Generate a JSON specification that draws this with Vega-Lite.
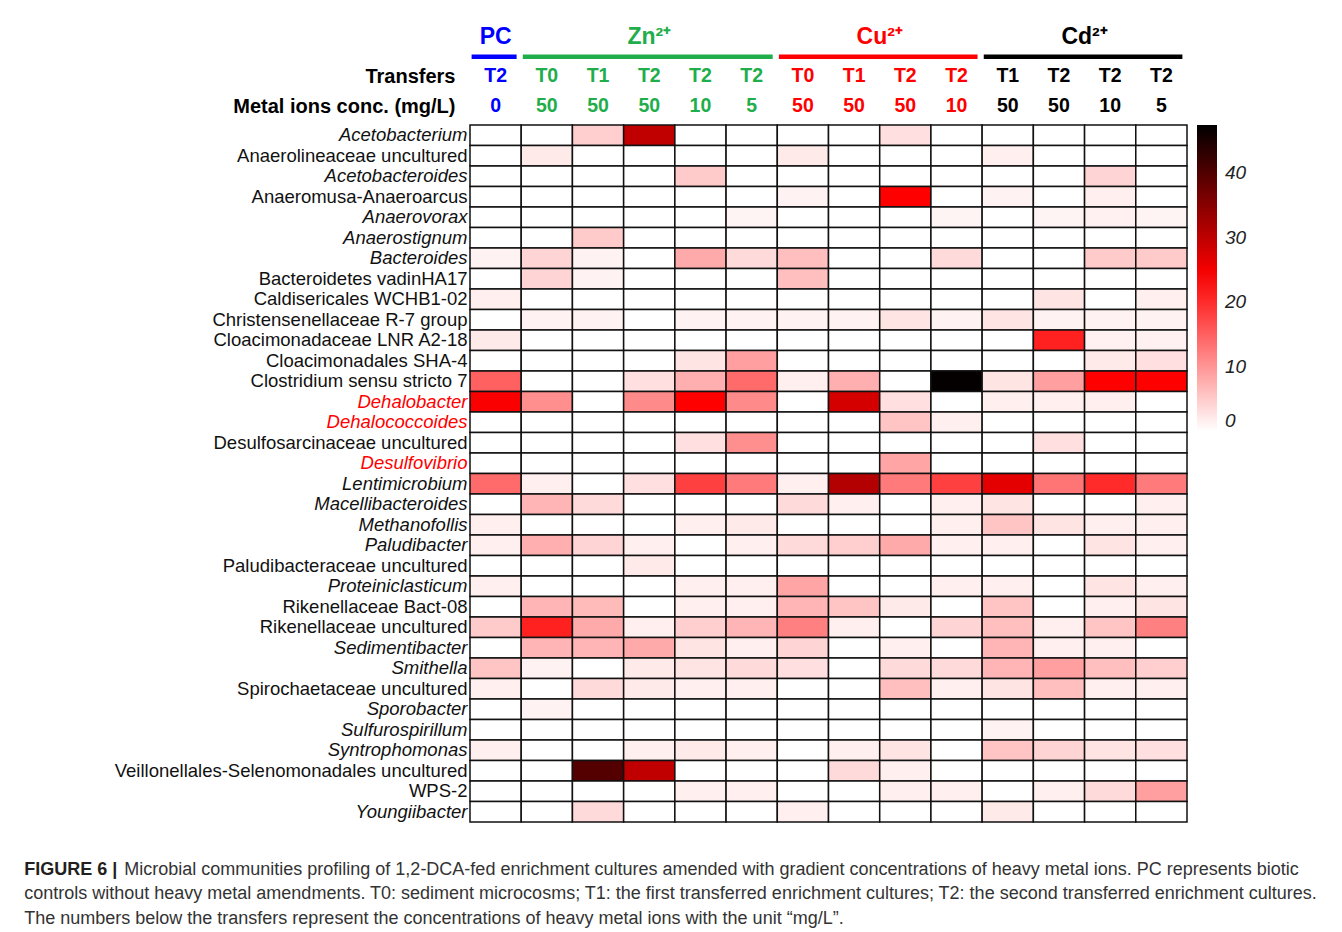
{
"$schema": "https://vega.github.io/schema/vega-lite/v6.json",
"padding": {"left": 24, "top": 26, "right": 10, "bottom": 10},
"config": {"view": {"stroke": null}, "font": "Liberation Sans"},
"datasets": {
"taxa": [
{"r":1,"taxon":"Acetobacterium"},{"r":2,"taxon":"Anaerolineaceae uncultured"},{"r":3,"taxon":"Acetobacteroides"},{"r":4,"taxon":"Anaeromusa-Anaeroarcus"},{"r":5,"taxon":"Anaerovorax"},{"r":6,"taxon":"Anaerostignum"},{"r":7,"taxon":"Bacteroides"},{"r":8,"taxon":"Bacteroidetes vadinHA17"},{"r":9,"taxon":"Caldisericales WCHB1-02"},{"r":10,"taxon":"Christensenellaceae R-7 group"},{"r":11,"taxon":"Cloacimonadaceae LNR A2-18"},{"r":12,"taxon":"Cloacimonadales SHA-4"},{"r":13,"taxon":"Clostridium sensu stricto 7"},{"r":14,"taxon":"Dehalobacter"},{"r":15,"taxon":"Dehalococcoides"},{"r":16,"taxon":"Desulfosarcinaceae uncultured"},{"r":17,"taxon":"Desulfovibrio"},{"r":18,"taxon":"Lentimicrobium"},{"r":19,"taxon":"Macellibacteroides"},{"r":20,"taxon":"Methanofollis"},{"r":21,"taxon":"Paludibacter"},{"r":22,"taxon":"Paludibacteraceae uncultured"},{"r":23,"taxon":"Proteiniclasticum"},{"r":24,"taxon":"Rikenellaceae Bact-08"},{"r":25,"taxon":"Rikenellaceae uncultured"},{"r":26,"taxon":"Sedimentibacter"},{"r":27,"taxon":"Smithella"},{"r":28,"taxon":"Spirochaetaceae uncultured"},{"r":29,"taxon":"Sporobacter"},{"r":30,"taxon":"Sulfurospirillum"},{"r":31,"taxon":"Syntrophomonas"},{"r":32,"taxon":"Veillonellales-Selenomonadales uncultured"},{"r":33,"taxon":"WPS-2"},{"r":34,"taxon":"Youngiibacter"}
],
"cols": [
{"c":1,"group":"PC","transfer":"T2","conc":"0"},
{"c":2,"group":"Zn²⁺","transfer":"T0","conc":"50"},
{"c":3,"group":"Zn²⁺","transfer":"T1","conc":"50"},
{"c":4,"group":"Zn²⁺","transfer":"T2","conc":"50"},
{"c":5,"group":"Zn²⁺","transfer":"T2","conc":"10"},
{"c":6,"group":"Zn²⁺","transfer":"T2","conc":"5"},
{"c":7,"group":"Cu²⁺","transfer":"T0","conc":"50"},
{"c":8,"group":"Cu²⁺","transfer":"T1","conc":"50"},
{"c":9,"group":"Cu²⁺","transfer":"T2","conc":"50"},
{"c":10,"group":"Cu²⁺","transfer":"T2","conc":"10"},
{"c":11,"group":"Cd²⁺","transfer":"T1","conc":"50"},
{"c":12,"group":"Cd²⁺","transfer":"T2","conc":"50"},
{"c":13,"group":"Cd²⁺","transfer":"T2","conc":"10"},
{"c":14,"group":"Cd²⁺","transfer":"T2","conc":"5"}
],
"cells": [
{"r":1,"c":1,"v":0},{"r":1,"c":2,"v":0},{"r":1,"c":3,"v":4.5},{"r":1,"c":4,"v":29.8},{"r":1,"c":5,"v":0},{"r":1,"c":6,"v":0},{"r":1,"c":7,"v":0},{"r":1,"c":8,"v":0},{"r":1,"c":9,"v":3},{"r":1,"c":10,"v":0},{"r":1,"c":11,"v":0},{"r":1,"c":12,"v":0},{"r":1,"c":13,"v":0},{"r":1,"c":14,"v":0},
{"r":2,"c":1,"v":0},{"r":2,"c":2,"v":2},{"r":2,"c":3,"v":0},{"r":2,"c":4,"v":0},{"r":2,"c":5,"v":0},{"r":2,"c":6,"v":0},{"r":2,"c":7,"v":2},{"r":2,"c":8,"v":0},{"r":2,"c":9,"v":0},{"r":2,"c":10,"v":0},{"r":2,"c":11,"v":1.5},{"r":2,"c":12,"v":0},{"r":2,"c":13,"v":0},{"r":2,"c":14,"v":0},
{"r":3,"c":1,"v":0},{"r":3,"c":2,"v":0},{"r":3,"c":3,"v":0},{"r":3,"c":4,"v":0},{"r":3,"c":5,"v":5},{"r":3,"c":6,"v":0},{"r":3,"c":7,"v":0},{"r":3,"c":8,"v":0},{"r":3,"c":9,"v":0},{"r":3,"c":10,"v":0},{"r":3,"c":11,"v":0},{"r":3,"c":12,"v":0},{"r":3,"c":13,"v":4},{"r":3,"c":14,"v":0},
{"r":4,"c":1,"v":0},{"r":4,"c":2,"v":0},{"r":4,"c":3,"v":0},{"r":4,"c":4,"v":0},{"r":4,"c":5,"v":0},{"r":4,"c":6,"v":0},{"r":4,"c":7,"v":1.2},{"r":4,"c":8,"v":0},{"r":4,"c":9,"v":24},{"r":4,"c":10,"v":0},{"r":4,"c":11,"v":1.2},{"r":4,"c":12,"v":0},{"r":4,"c":13,"v":1.5},{"r":4,"c":14,"v":0},
{"r":5,"c":1,"v":0},{"r":5,"c":2,"v":0},{"r":5,"c":3,"v":0},{"r":5,"c":4,"v":0},{"r":5,"c":5,"v":0},{"r":5,"c":6,"v":1},{"r":5,"c":7,"v":0},{"r":5,"c":8,"v":0},{"r":5,"c":9,"v":0},{"r":5,"c":10,"v":1},{"r":5,"c":11,"v":0},{"r":5,"c":12,"v":1},{"r":5,"c":13,"v":1.3},{"r":5,"c":14,"v":1},
{"r":6,"c":1,"v":0},{"r":6,"c":2,"v":0},{"r":6,"c":3,"v":5},{"r":6,"c":4,"v":0},{"r":6,"c":5,"v":0},{"r":6,"c":6,"v":0},{"r":6,"c":7,"v":0},{"r":6,"c":8,"v":0},{"r":6,"c":9,"v":0},{"r":6,"c":10,"v":0},{"r":6,"c":11,"v":0},{"r":6,"c":12,"v":0},{"r":6,"c":13,"v":0},{"r":6,"c":14,"v":0},
{"r":7,"c":1,"v":1.2},{"r":7,"c":2,"v":4},{"r":7,"c":3,"v":1.2},{"r":7,"c":4,"v":0},{"r":7,"c":5,"v":8},{"r":7,"c":6,"v":3.5},{"r":7,"c":7,"v":6},{"r":7,"c":8,"v":0},{"r":7,"c":9,"v":0},{"r":7,"c":10,"v":3.5},{"r":7,"c":11,"v":0},{"r":7,"c":12,"v":0},{"r":7,"c":13,"v":5},{"r":7,"c":14,"v":5},
{"r":8,"c":1,"v":0},{"r":8,"c":2,"v":4},{"r":8,"c":3,"v":1.2},{"r":8,"c":4,"v":0},{"r":8,"c":5,"v":0},{"r":8,"c":6,"v":0},{"r":8,"c":7,"v":6},{"r":8,"c":8,"v":0},{"r":8,"c":9,"v":0},{"r":8,"c":10,"v":0},{"r":8,"c":11,"v":0},{"r":8,"c":12,"v":0},{"r":8,"c":13,"v":0},{"r":8,"c":14,"v":0},
{"r":9,"c":1,"v":1.5},{"r":9,"c":2,"v":0},{"r":9,"c":3,"v":0},{"r":9,"c":4,"v":0},{"r":9,"c":5,"v":0},{"r":9,"c":6,"v":0},{"r":9,"c":7,"v":0},{"r":9,"c":8,"v":0},{"r":9,"c":9,"v":0},{"r":9,"c":10,"v":0},{"r":9,"c":11,"v":0},{"r":9,"c":12,"v":2.5},{"r":9,"c":13,"v":0},{"r":9,"c":14,"v":1.5},
{"r":10,"c":1,"v":0},{"r":10,"c":2,"v":1.2},{"r":10,"c":3,"v":1.2},{"r":10,"c":4,"v":0},{"r":10,"c":5,"v":1.2},{"r":10,"c":6,"v":1.2},{"r":10,"c":7,"v":1.2},{"r":10,"c":8,"v":1.2},{"r":10,"c":9,"v":2.5},{"r":10,"c":10,"v":1.2},{"r":10,"c":11,"v":2.5},{"r":10,"c":12,"v":1.2},{"r":10,"c":13,"v":1.2},{"r":10,"c":14,"v":1.2},
{"r":11,"c":1,"v":2},{"r":11,"c":2,"v":0},{"r":11,"c":3,"v":0},{"r":11,"c":4,"v":0},{"r":11,"c":5,"v":0},{"r":11,"c":6,"v":0},{"r":11,"c":7,"v":0},{"r":11,"c":8,"v":0},{"r":11,"c":9,"v":0},{"r":11,"c":10,"v":0},{"r":11,"c":11,"v":0},{"r":11,"c":12,"v":21},{"r":11,"c":13,"v":1.3},{"r":11,"c":14,"v":1.3},
{"r":12,"c":1,"v":0},{"r":12,"c":2,"v":0},{"r":12,"c":3,"v":0},{"r":12,"c":4,"v":0},{"r":12,"c":5,"v":2.5},{"r":12,"c":6,"v":9},{"r":12,"c":7,"v":0},{"r":12,"c":8,"v":0},{"r":12,"c":9,"v":0},{"r":12,"c":10,"v":0},{"r":12,"c":11,"v":0},{"r":12,"c":12,"v":0},{"r":12,"c":13,"v":2},{"r":12,"c":14,"v":3},
{"r":13,"c":1,"v":15},{"r":13,"c":2,"v":0},{"r":13,"c":3,"v":0},{"r":13,"c":4,"v":3},{"r":13,"c":5,"v":7.5},{"r":13,"c":6,"v":14},{"r":13,"c":7,"v":1.5},{"r":13,"c":8,"v":7.5},{"r":13,"c":9,"v":0},{"r":13,"c":10,"v":47},{"r":13,"c":11,"v":2.5},{"r":13,"c":12,"v":9},{"r":13,"c":13,"v":24},{"r":13,"c":14,"v":24},
{"r":14,"c":1,"v":24.5},{"r":14,"c":2,"v":10.5},{"r":14,"c":3,"v":0},{"r":14,"c":4,"v":11},{"r":14,"c":5,"v":24},{"r":14,"c":6,"v":11},{"r":14,"c":7,"v":0},{"r":14,"c":8,"v":28},{"r":14,"c":9,"v":3},{"r":14,"c":10,"v":0},{"r":14,"c":11,"v":1.5},{"r":14,"c":12,"v":1.5},{"r":14,"c":13,"v":1.5},{"r":14,"c":14,"v":0},
{"r":15,"c":1,"v":0},{"r":15,"c":2,"v":0},{"r":15,"c":3,"v":0},{"r":15,"c":4,"v":0},{"r":15,"c":5,"v":0},{"r":15,"c":6,"v":0},{"r":15,"c":7,"v":0},{"r":15,"c":8,"v":0},{"r":15,"c":9,"v":5.5},{"r":15,"c":10,"v":1.5},{"r":15,"c":11,"v":0},{"r":15,"c":12,"v":0},{"r":15,"c":13,"v":0},{"r":15,"c":14,"v":0},
{"r":16,"c":1,"v":0},{"r":16,"c":2,"v":0},{"r":16,"c":3,"v":0},{"r":16,"c":4,"v":0},{"r":16,"c":5,"v":3},{"r":16,"c":6,"v":10.5},{"r":16,"c":7,"v":0},{"r":16,"c":8,"v":0},{"r":16,"c":9,"v":0},{"r":16,"c":10,"v":0},{"r":16,"c":11,"v":0},{"r":16,"c":12,"v":3},{"r":16,"c":13,"v":0},{"r":16,"c":14,"v":0},
{"r":17,"c":1,"v":0},{"r":17,"c":2,"v":0},{"r":17,"c":3,"v":0},{"r":17,"c":4,"v":0},{"r":17,"c":5,"v":0},{"r":17,"c":6,"v":0},{"r":17,"c":7,"v":0},{"r":17,"c":8,"v":0},{"r":17,"c":9,"v":8.5},{"r":17,"c":10,"v":0},{"r":17,"c":11,"v":0},{"r":17,"c":12,"v":0},{"r":17,"c":13,"v":0},{"r":17,"c":14,"v":0},
{"r":18,"c":1,"v":14},{"r":18,"c":2,"v":1.5},{"r":18,"c":3,"v":0},{"r":18,"c":4,"v":3},{"r":18,"c":5,"v":18},{"r":18,"c":6,"v":12.5},{"r":18,"c":7,"v":1.5},{"r":18,"c":8,"v":31},{"r":18,"c":9,"v":12.5},{"r":18,"c":10,"v":18},{"r":18,"c":11,"v":26.5},{"r":18,"c":12,"v":13},{"r":18,"c":13,"v":20},{"r":18,"c":14,"v":12.5},
{"r":19,"c":1,"v":0},{"r":19,"c":2,"v":7},{"r":19,"c":3,"v":3.5},{"r":19,"c":4,"v":0},{"r":19,"c":5,"v":0},{"r":19,"c":6,"v":0},{"r":19,"c":7,"v":3.5},{"r":19,"c":8,"v":1.5},{"r":19,"c":9,"v":0},{"r":19,"c":10,"v":1.5},{"r":19,"c":11,"v":2.5},{"r":19,"c":12,"v":0},{"r":19,"c":13,"v":0},{"r":19,"c":14,"v":1.5},
{"r":20,"c":1,"v":1.5},{"r":20,"c":2,"v":0},{"r":20,"c":3,"v":0},{"r":20,"c":4,"v":0},{"r":20,"c":5,"v":1.5},{"r":20,"c":6,"v":2},{"r":20,"c":7,"v":0},{"r":20,"c":8,"v":0},{"r":20,"c":9,"v":0},{"r":20,"c":10,"v":1.5},{"r":20,"c":11,"v":5.5},{"r":20,"c":12,"v":2.5},{"r":20,"c":13,"v":1.5},{"r":20,"c":14,"v":1.5},
{"r":21,"c":1,"v":1.5},{"r":21,"c":2,"v":7.5},{"r":21,"c":3,"v":4},{"r":21,"c":4,"v":1.5},{"r":21,"c":5,"v":0},{"r":21,"c":6,"v":1.5},{"r":21,"c":7,"v":3.5},{"r":21,"c":8,"v":4.5},{"r":21,"c":9,"v":8},{"r":21,"c":10,"v":1.5},{"r":21,"c":11,"v":1.5},{"r":21,"c":12,"v":0},{"r":21,"c":13,"v":2.5},{"r":21,"c":14,"v":1.5},
{"r":22,"c":1,"v":0},{"r":22,"c":2,"v":0},{"r":22,"c":3,"v":0},{"r":22,"c":4,"v":2},{"r":22,"c":5,"v":0},{"r":22,"c":6,"v":0},{"r":22,"c":7,"v":0},{"r":22,"c":8,"v":0},{"r":22,"c":9,"v":0},{"r":22,"c":10,"v":0},{"r":22,"c":11,"v":0},{"r":22,"c":12,"v":0},{"r":22,"c":13,"v":0},{"r":22,"c":14,"v":0},
{"r":23,"c":1,"v":1.5},{"r":23,"c":2,"v":0},{"r":23,"c":3,"v":0},{"r":23,"c":4,"v":0},{"r":23,"c":5,"v":1.5},{"r":23,"c":6,"v":1.5},{"r":23,"c":7,"v":8.5},{"r":23,"c":8,"v":0},{"r":23,"c":9,"v":0},{"r":23,"c":10,"v":1.5},{"r":23,"c":11,"v":1.5},{"r":23,"c":12,"v":0},{"r":23,"c":13,"v":2.5},{"r":23,"c":14,"v":1.5},
{"r":24,"c":1,"v":0},{"r":24,"c":2,"v":7},{"r":24,"c":3,"v":6.5},{"r":24,"c":4,"v":0},{"r":24,"c":5,"v":1.5},{"r":24,"c":6,"v":1.5},{"r":24,"c":7,"v":7},{"r":24,"c":8,"v":5.5},{"r":24,"c":9,"v":2},{"r":24,"c":10,"v":0},{"r":24,"c":11,"v":5.5},{"r":24,"c":12,"v":0},{"r":24,"c":13,"v":1.5},{"r":24,"c":14,"v":2.5},
{"r":25,"c":1,"v":5},{"r":25,"c":2,"v":21},{"r":25,"c":3,"v":8},{"r":25,"c":4,"v":1.5},{"r":25,"c":5,"v":4.5},{"r":25,"c":6,"v":7},{"r":25,"c":7,"v":12},{"r":25,"c":8,"v":1.5},{"r":25,"c":9,"v":0},{"r":25,"c":10,"v":4},{"r":25,"c":11,"v":6},{"r":25,"c":12,"v":1.5},{"r":25,"c":13,"v":5.5},{"r":25,"c":14,"v":12},
{"r":26,"c":1,"v":0},{"r":26,"c":2,"v":7},{"r":26,"c":3,"v":7},{"r":26,"c":4,"v":8},{"r":26,"c":5,"v":2.5},{"r":26,"c":6,"v":1.5},{"r":26,"c":7,"v":4},{"r":26,"c":8,"v":0},{"r":26,"c":9,"v":1.5},{"r":26,"c":10,"v":0},{"r":26,"c":11,"v":7},{"r":26,"c":12,"v":1.5},{"r":26,"c":13,"v":1.5},{"r":26,"c":14,"v":0},
{"r":27,"c":1,"v":5.5},{"r":27,"c":2,"v":1.2},{"r":27,"c":3,"v":0},{"r":27,"c":4,"v":2},{"r":27,"c":5,"v":2.5},{"r":27,"c":6,"v":3.5},{"r":27,"c":7,"v":3},{"r":27,"c":8,"v":0},{"r":27,"c":9,"v":3.5},{"r":27,"c":10,"v":3.5},{"r":27,"c":11,"v":7},{"r":27,"c":12,"v":9},{"r":27,"c":13,"v":6},{"r":27,"c":14,"v":4.5},
{"r":28,"c":1,"v":1.5},{"r":28,"c":2,"v":0},{"r":28,"c":3,"v":3.5},{"r":28,"c":4,"v":2},{"r":28,"c":5,"v":1.5},{"r":28,"c":6,"v":1.5},{"r":28,"c":7,"v":0},{"r":28,"c":8,"v":0},{"r":28,"c":9,"v":6},{"r":28,"c":10,"v":1.5},{"r":28,"c":11,"v":2.5},{"r":28,"c":12,"v":6},{"r":28,"c":13,"v":1.5},{"r":28,"c":14,"v":1.5},
{"r":29,"c":1,"v":0},{"r":29,"c":2,"v":1.2},{"r":29,"c":3,"v":0},{"r":29,"c":4,"v":0},{"r":29,"c":5,"v":0},{"r":29,"c":6,"v":0},{"r":29,"c":7,"v":0},{"r":29,"c":8,"v":0},{"r":29,"c":9,"v":0},{"r":29,"c":10,"v":0},{"r":29,"c":11,"v":0},{"r":29,"c":12,"v":0},{"r":29,"c":13,"v":0},{"r":29,"c":14,"v":0},
{"r":30,"c":1,"v":0},{"r":30,"c":2,"v":0},{"r":30,"c":3,"v":0},{"r":30,"c":4,"v":0},{"r":30,"c":5,"v":0},{"r":30,"c":6,"v":0},{"r":30,"c":7,"v":0},{"r":30,"c":8,"v":0},{"r":30,"c":9,"v":0},{"r":30,"c":10,"v":0},{"r":30,"c":11,"v":1.2},{"r":30,"c":12,"v":0},{"r":30,"c":13,"v":0},{"r":30,"c":14,"v":0},
{"r":31,"c":1,"v":1.5},{"r":31,"c":2,"v":0},{"r":31,"c":3,"v":0},{"r":31,"c":4,"v":1.5},{"r":31,"c":5,"v":2},{"r":31,"c":6,"v":1.5},{"r":31,"c":7,"v":0},{"r":31,"c":8,"v":1.5},{"r":31,"c":9,"v":2.5},{"r":31,"c":10,"v":0},{"r":31,"c":11,"v":5.5},{"r":31,"c":12,"v":4},{"r":31,"c":13,"v":2.5},{"r":31,"c":14,"v":3},
{"r":32,"c":1,"v":0},{"r":32,"c":2,"v":0},{"r":32,"c":3,"v":39.8},{"r":32,"c":4,"v":29.8},{"r":32,"c":5,"v":0},{"r":32,"c":6,"v":0},{"r":32,"c":7,"v":0},{"r":32,"c":8,"v":3.5},{"r":32,"c":9,"v":1.5},{"r":32,"c":10,"v":0},{"r":32,"c":11,"v":0},{"r":32,"c":12,"v":0},{"r":32,"c":13,"v":0},{"r":32,"c":14,"v":0},
{"r":33,"c":1,"v":0},{"r":33,"c":2,"v":0},{"r":33,"c":3,"v":0},{"r":33,"c":4,"v":0},{"r":33,"c":5,"v":1.5},{"r":33,"c":6,"v":1.5},{"r":33,"c":7,"v":0},{"r":33,"c":8,"v":0},{"r":33,"c":9,"v":1.5},{"r":33,"c":10,"v":1.5},{"r":33,"c":11,"v":0},{"r":33,"c":12,"v":1.5},{"r":33,"c":13,"v":3.5},{"r":33,"c":14,"v":9},
{"r":34,"c":1,"v":0},{"r":34,"c":2,"v":0},{"r":34,"c":3,"v":3.5},{"r":34,"c":4,"v":0},{"r":34,"c":5,"v":0},{"r":34,"c":6,"v":0},{"r":34,"c":7,"v":1.5},{"r":34,"c":8,"v":0},{"r":34,"c":9,"v":0},{"r":34,"c":10,"v":0},{"r":34,"c":11,"v":2},{"r":34,"c":12,"v":0},{"r":34,"c":13,"v":0},{"r":34,"c":14,"v":0}
]
},
"title": {
"text": "FIGURE 6 |",
"subtitle": ["\u200d\u00a0\u00a0\u00a0\u00a0\u00a0\u00a0\u00a0\u00a0\u00a0\u00a0\u00a0\u00a0\u00a0\u00a0\u00a0\u00a0\u00a0\u00a0\u00a0\u00a0Microbial communities profiling of 1,2-DCA-fed enrichment cultures amended with gradient concentrations of heavy metal ions. PC represents biotic", "controls without heavy metal amendments. T0: sediment microcosms; T1: the first transferred enrichment cultures; T2: the second transferred enrichment cultures.", "The numbers below the transfers represent the concentrations of heavy metal ions with the unit “mg/L”."],
"orient": "bottom", "anchor": "start", "frame": "bounds",
"font": "Liberation Sans", "fontSize": 18, "fontWeight": "bold", "color": "#231f20",
"subtitleFont": "Liberation Sans", "subtitleFontSize": 18, "subtitleColor": "#333333", "subtitleFontWeight": "normal",
"subtitleLineHeight": 24.5, "subtitlePadding": -18, "offset": 38, "dx": -90
},
"spacing": 8,
"resolve": {"scale": {"color": "independent"}, "legend": {"color": "independent"}},
"vconcat": [
{
"width": 717, "height": 69,
"data": {"name": "cols"},
"layer": [
{
"transform": [{"aggregate": [{"op": "mean", "field": "c", "as": "mid"}, {"op": "min", "field": "c", "as": "first"}, {"op": "max", "field": "c", "as": "last"}], "groupby": ["group"]}],
"layer": [
{"mark": {"type": "text", "fontSize": 23, "fontWeight": "bold", "font": "Liberation Sans", "baseline": "middle"},
"encoding": {
"x": {"field": "mid", "type": "quantitative", "scale": {"domain": [0.5, 14.5], "nice": false, "zero": false}, "axis": null},
"y": {"datum": "group", "type": "nominal", "scale": {"type": "point", "domain": ["group", "f1", "bar", "f2", "transfer", "f3", "f4", "conc"], "padding": 0}, "axis": {"title": null, "ticks": false, "domain": false, "grid": false, "labelFontSize": 20, "labelFontWeight": "bold", "labelColor": "#000000", "labelPadding": 15, "labelLimit": 400, "labelFont": "Liberation Sans", "labelExpr": "datum.value == 'transfer' ? 'Transfers' : datum.value == 'conc' ? 'Metal ions conc. (mg/L)' : ''"}},
"text": {"field": "group"},
"color": {"field": "group", "type": "nominal", "scale": {"domain": ["PC", "Zn²⁺", "Cu²⁺", "Cd²⁺"], "range": ["#0000ff", "#1fae4b", "#ff0000", "#000000"]}, "legend": null}
}},
{"mark": {"type": "rule", "strokeWidth": 4.5, "xOffset": -24, "x2Offset": 21},
"encoding": {
"x": {"field": "first", "type": "quantitative", "scale": {"domain": [0.5, 14.5], "nice": false, "zero": false}, "axis": null},
"x2": {"field": "last"},
"y": {"datum": "bar", "type": "nominal"},
"color": {"field": "group", "type": "nominal", "legend": null}
}}
]
},
{"mark": {"type": "text", "fontSize": 19.5, "fontWeight": "bold", "font": "Liberation Sans", "baseline": "middle"},
"encoding": {
"x": {"field": "c", "type": "quantitative", "scale": {"domain": [0.5, 14.5], "nice": false, "zero": false}, "axis": null},
"y": {"datum": "transfer", "type": "nominal"},
"text": {"field": "transfer"},
"color": {"field": "group", "type": "nominal", "legend": null}
}},
{"mark": {"type": "text", "fontSize": 19.5, "fontWeight": "bold", "font": "Liberation Sans", "baseline": "middle"},
"encoding": {
"x": {"field": "c", "type": "quantitative", "scale": {"domain": [0.5, 14.5], "nice": false, "zero": false}, "axis": null},
"y": {"datum": "conc", "type": "nominal"},
"text": {"field": "conc"},
"color": {"field": "group", "type": "nominal", "legend": null}
}}
]
},
{
"width": 717, "height": 697,
"data": {"name": "cells"},
"transform": [{"lookup": "r", "from": {"data": {"name": "taxa"}, "key": "r", "fields": ["taxon"]}}],
"mark": {"type": "rect", "stroke": "#111111", "strokeWidth": 1.5},
"encoding": {
"x": {"field": "c", "type": "ordinal", "scale": {"paddingInner": 0, "paddingOuter": 0}, "axis": null},
"y": {"field": "taxon", "type": "nominal", "sort": {"field": "r", "op": "min"}, "scale": {"paddingInner": 0, "paddingOuter": 0},
"axis": {"title": null, "ticks": false, "domain": false, "labelFont": "Liberation Sans", "labelFontSize": 18.5, "labelPadding": 3, "labelLimit": 500,
"labelColor": {"condition": {"test": "indexof(['Dehalobacter','Dehalococcoides','Desulfovibrio'], datum.value) >= 0", "value": "#ff0000"}, "value": "#111111"},
"labelFontStyle": {"condition": {"test": "indexof(['Acetobacterium','Acetobacteroides','Anaerovorax','Anaerostignum','Bacteroides','Dehalobacter','Dehalococcoides','Desulfovibrio','Lentimicrobium','Macellibacteroides','Methanofollis','Paludibacter','Proteiniclasticum','Sedimentibacter','Smithella','Sporobacter','Sulfurospirillum','Syntrophomonas','Youngiibacter'], datum.value) >= 0", "value": "italic"}, "value": "normal"}}},
"color": {"field": "v", "type": "quantitative", "scale": {"domain": [0, 24, 47.5], "range": ["#ffffff", "#ff0000", "#000000"], "interpolate": "rgb"},
"legend": {"title": null, "direction": "vertical", "orient": "right", "offset": 10, "gradientLength": 306, "gradientThickness": 20, "gradientStrokeWidth": 0, "values": [0, 10, 20, 30, 40], "labelFont": "Liberation Sans", "labelFontSize": 19, "labelFontStyle": "italic", "labelColor": "#222222", "labelOffset": 8, "labelBaseline": "middle", "labelOverlap": false}}
}
}
]
}
